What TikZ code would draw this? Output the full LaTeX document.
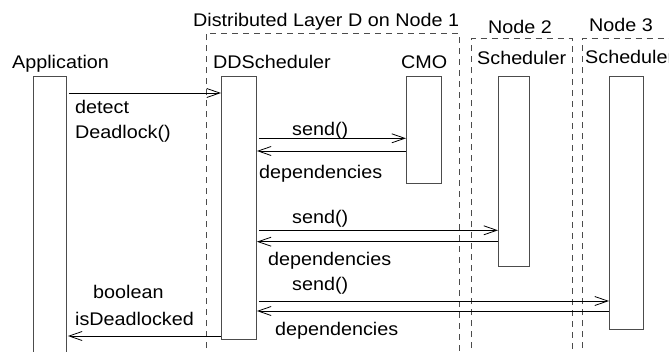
\documentclass[tikz,border=0pt]{standalone}
\usepackage{fontspec}
\setmainfont{Liberation Sans}[FakeStretch=1.08]
\usetikzlibrary{arrows.meta}

\begin{document}
\begin{tikzpicture}[x=1pt,y=-1pt]
		\tikzstyle {lifeline} = [draw=black!70, line width=0.9pt, anchor=north west, inner sep=0pt]
		\tikzstyle {layer} = [draw=black!70, line width=0.8pt, dash pattern=on 6pt off 5pt]
		\tikzstyle {msg} = [line width=0.8pt, -{Straight Barb[length=13pt,width=9pt]}]
		\tikzstyle {lbl} = [anchor=base west, inner sep=0pt, font=\fontsize{18.3}{24.7}\selectfont]

		\useasboundingbox (0,0) rectangle (669,351);

		% layer and node frames
		\draw[layer] (206,370) -- (206,33) -- (459,33) -- (459,370);
		\draw[layer] (471,370) -- (471,38.5) -- (572,38.5) -- (572,370);
		\draw[layer] (582,370) -- (582,38.5) -- (690,38.5);

		\node[lbl] (layerD) at (193,26.7) {Distributed Layer D on Node 1};
		\node[lbl] (node2) at (488,33) {Node 2};
		\node[lbl] (node3) at (589,31.7) {Node 3};

		% lifelines
		\node[lbl] (appname) at (12,68) {Application};
		\node[lbl] (ddsname) at (213,68) {DDScheduler};
		\node[lbl] (cmoname) at (401,68) {CMO};
		\node[lbl] (schedAname) at (477,64) {Scheduler};
		\node[lbl] (schedBname) at (585,63.5) {Scheduler};

		\node[lifeline, minimum width=33pt, minimum height=300pt] (app) at (33,76) {};
		\node[lifeline, minimum width=35pt, minimum height=263pt] (dds) at (221,76) {};
		\node[lifeline, minimum width=35pt, minimum height=107pt] (cmo) at (406,76) {};
		\node[lifeline, minimum width=31pt, minimum height=190pt] (schedA) at (498,76) {};
		\node[lifeline, minimum width=34pt, minimum height=253pt] (schedB) at (609,76) {};

		% message levels
		\coordinate (call) at (0,93);
		\coordinate (sendA) at (0,138.3);
		\coordinate (depA) at (0,151);
		\coordinate (sendB) at (0,230.3);
		\coordinate (depB) at (0,241.7);
		\coordinate (sendC) at (0,301);
		\coordinate (depC) at (0,311);
		\coordinate (result) at (0,336);

		\draw[msg] ([xshift=2pt]app.east |- call) -- (dds.west |- call);
		\draw[msg] ([xshift=2pt]dds.east |- sendA) -- (cmo.west |- sendA);
		\draw[msg] (cmo.west |- depA) -- (dds.east |- depA);
		\draw[msg] ([xshift=2pt]dds.east |- sendB) -- (schedA.west |- sendB);
		\draw[msg] (schedA.west |- depB) -- (dds.east |- depB);
		\draw[msg] ([xshift=2pt]dds.east |- sendC) -- (schedB.west |- sendC);
		\draw[msg] (schedB.west |- depC) -- (dds.east |- depC);
		\draw[msg] (dds.west |- result) -- ([xshift=1pt]app.east |- result);

		\node[lbl] (detect) at (75,113) {detect};
		\node[lbl] (deadlock) at (75,138) {Deadlock()};
		\node[lbl] (sendAtxt) at (292,135.7) {send()};
		\node[lbl] (depAtxt) at (259,178.5) {dependencies};
		\node[lbl] (sendBtxt) at (292,223) {send()};
		\node[lbl] (depBtxt) at (268,265) {dependencies};
		\node[lbl] (sendCtxt) at (292,290) {send()};
		\node[lbl] (depCtxt) at (275,335) {dependencies};
		\node[lbl] (boolean) at (93,298) {boolean};
		\node[lbl] (isdead) at (75,325) {isDeadlocked};
	\end{tikzpicture}
\end{document}
